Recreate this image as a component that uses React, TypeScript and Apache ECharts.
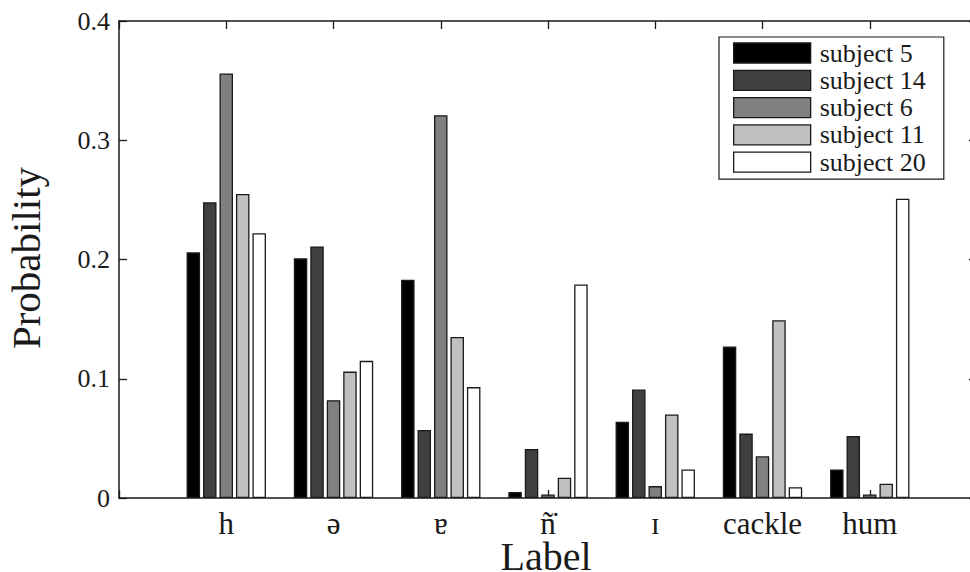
import React, { useEffect, useRef } from "react";
import * as echarts from "echarts";

const categories = ["h", "ə", "ɐ", "n\u0303\u0307", "ɪ", "cackle", "hum"];
const seriesNames = ["subject 5", "subject 14", "subject 6", "subject 11", "subject 20"];
const subject5 = [0.206, 0.201, 0.183, 0.005, 0.064, 0.127, 0.024];
const subject14 = [0.248, 0.211, 0.057, 0.041, 0.091, 0.054, 0.052];
const subject6 = [0.356, 0.082, 0.321, 0.003, 0.01, 0.035, 0.003];
const subject11 = [0.255, 0.106, 0.135, 0.017, 0.07, 0.149, 0.012];
const subject20 = [0.222, 0.115, 0.093, 0.179, 0.024, 0.009, 0.251];
const seriesColors = ["#000000", "#404040", "#808080", "#c0c0c0", "#ffffff"];
const yMin = 0;
const yMax = 0.4;
const yStep = 0.1;
const xMin = 0;
const xMax = 8;

const FONT = "'Liberation Serif', 'DejaVu Serif', serif";
const INK = "#1a1a1a";

export default function App() {
  const ref = useRef<HTMLDivElement>(null);
  useEffect(() => {
    if (!ref.current) return;
    const chart = echarts.init(ref.current, null, { renderer: "svg" });
    const allData = [subject5, subject14, subject6, subject11, subject20];
    const series = allData.map((vals, si) => ({
      type: "bar",
      name: seriesNames[si],
      xAxisIndex: 0,
      yAxisIndex: 0,
      barWidth: 13.5,
      barGap: "22%",
      itemStyle: { color: seriesColors[si], borderColor: INK, borderWidth: 1.3 },
      emphasis: { disabled: true },
      data: vals.map((v, i) => [i + 1, v]),
    }));
    const tick = () => ({
      show: true,
      inside: true,
      length: 8,
      lineStyle: { color: INK, width: 1.3 },
    });
    const line = () => ({ show: true, onZero: false, lineStyle: { color: INK, width: 1.5 } });
    chart.setOption({
      animation: false,
      backgroundColor: "#ffffff",
      grid: { left: 119, top: 21, width: 858, height: 477, outerBoundsMode: "none", containLabel: false },
      legend: {
        orient: "vertical",
        left: 719,
        top: 37,
        data: seriesNames,
        icon: "rect",
        itemWidth: 77,
        itemHeight: 20,
        itemGap: 1.3,
        padding: [3, 18, 4, 14],
        borderColor: INK,
        borderWidth: 1.2,
        backgroundColor: "#ffffff",
        itemStyle: { borderColor: INK, borderWidth: 1.3 },
        textStyle: { fontFamily: FONT, fontSize: 26, color: INK, lineHeight: 26, padding: [0, 0, 0, 4] },
        selectedMode: false,
      },
      xAxis: [
        {
          type: "value",
          position: "bottom",
          min: xMin,
          max: xMax,
          interval: 1,
          axisLine: line(),
          axisTick: tick(),
          splitLine: { show: false },
          axisLabel: {
            margin: 10,
            fontFamily: FONT,
            fontSize: 31,
            lineHeight: 31,
            color: INK,
            formatter: (v: number) => categories[v - 1] ?? "",
          },
        },
        {
          type: "value",
          position: "top",
          min: xMin,
          max: xMax,
          interval: 1,
          axisLine: line(),
          axisTick: tick(),
          splitLine: { show: false },
          axisLabel: { show: false },
        },
      ],
      yAxis: [
        {
          type: "value",
          position: "left",
          min: yMin,
          max: yMax,
          interval: yStep,
          axisLine: line(),
          axisTick: tick(),
          splitLine: { show: false },
          axisLabel: { margin: 9, fontFamily: FONT, fontSize: 26, color: INK },
        },
        {
          type: "value",
          position: "right",
          min: yMin,
          max: yMax,
          interval: yStep,
          axisLine: line(),
          axisTick: tick(),
          splitLine: { show: false },
          axisLabel: { show: false },
        },
      ],
      graphic: [
        {
          type: "text",
          x: 546,
          y: 556,
          style: {
            text: "Label",
            fontFamily: FONT,
            fontSize: 40,
            lineHeight: 30,
            fill: INK,
            textAlign: "center",
            textVerticalAlign: "middle",
          },
        },
        {
          type: "text",
          x: 26,
          y: 258,
          rotation: Math.PI / 2,
          style: {
            text: "Probability",
            fontFamily: FONT,
            fontSize: 41,
            fill: INK,
            textAlign: "center",
            textVerticalAlign: "middle",
          },
        },
      ],
      series,
    });
    return () => chart.dispose();
  }, []);
  return (
    <div
      ref={ref}
      style={{ position: "fixed", left: 0, top: 0, width: 970, height: 572, background: "#fff" }}
    />
  );
}
